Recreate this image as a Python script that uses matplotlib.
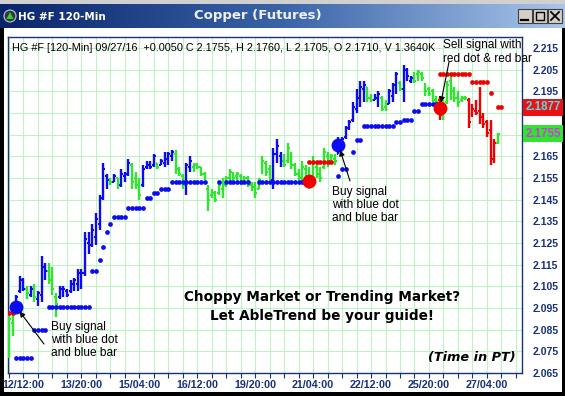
import numpy as np
import matplotlib
matplotlib.use('Agg')
import matplotlib.pyplot as plt
import matplotlib.patches as mpatches
import matplotlib.transforms as mtransforms
from matplotlib.colors import LinearSegmentedColormap

# ---- data: HG #F copper futures, 120-min bars (bar 0 = first bar on the left) ----
bar_color = list("ggbbbgbgbb" "bgggbbbbbb" "bbbbbbbbgb" "gbbbgggbbb" "bgbbbbgggb"
                 "bggggggggg" "gggggggggg" "gggbbbgggg" "gggggggggg" "gbbbbbbbbg"
                 "gbbggbbbgb" "bbgggggggr" "gggggggrrr" "rrrrrg")
high = [2.092, 2.093, 2.101, 2.110, 2.109, 2.105, 2.105, 2.106, 2.103, 2.119,
        2.116, 2.116, 2.114, 2.102, 2.105, 2.105, 2.104, 2.108, 2.109, 2.113,
        2.113, 2.130, 2.130, 2.134, 2.139, 2.147, 2.162, 2.157, 2.155, 2.157,
        2.155, 2.159, 2.158, 2.164, 2.162, 2.158, 2.155, 2.161, 2.163, 2.163,
        2.166, 2.162, 2.164, 2.167, 2.167, 2.168, 2.168, 2.160, 2.157, 2.162,
        2.165, 2.162, 2.162, 2.160, 2.158, 2.152, 2.150, 2.149, 2.153, 2.155,
        2.156, 2.159, 2.158, 2.158, 2.157, 2.156, 2.156, 2.153, 2.153, 2.155,
        2.165, 2.163, 2.161, 2.169, 2.173, 2.167, 2.166, 2.171, 2.167, 2.162,
        2.159, 2.163, 2.161, 2.160, 2.165, 2.163, 2.160, 2.169, 2.167, 2.166,
        2.166, 2.174, 2.174, 2.179, 2.182, 2.190, 2.196, 2.200, 2.200, 2.197,
        2.194, 2.194, 2.195, 2.193, 2.191, 2.196, 2.199, 2.204, 2.200, 2.207,
        2.206, 2.202, 2.204, 2.205, 2.204, 2.199, 2.197, 2.196, 2.193, 2.193,
        2.191, 2.200, 2.203, 2.197, 2.195, 2.193, 2.193, 2.192, 2.189, 2.191,
        2.197, 2.185, 2.182, 2.182, 2.173, 2.176]
low = [2.072, 2.082, 2.093, 2.102, 2.103, 2.099, 2.100, 2.098, 2.096, 2.098,
       2.108, 2.106, 2.101, 2.091, 2.099, 2.100, 2.100, 2.102, 2.103, 2.103,
       2.104, 2.110, 2.120, 2.123, 2.124, 2.131, 2.145, 2.150, 2.152, 2.153,
       2.150, 2.151, 2.153, 2.156, 2.150, 2.150, 2.145, 2.151, 2.159, 2.159,
       2.160, 2.159, 2.161, 2.160, 2.161, 2.163, 2.157, 2.156, 2.150, 2.147,
       2.158, 2.158, 2.159, 2.156, 2.154, 2.140, 2.146, 2.144, 2.147, 2.146,
       2.151, 2.153, 2.154, 2.154, 2.152, 2.153, 2.151, 2.149, 2.146, 2.150,
       2.157, 2.156, 2.154, 2.150, 2.162, 2.160, 2.160, 2.162, 2.159, 2.156,
       2.154, 2.153, 2.152, 2.150, 2.154, 2.155, 2.153, 2.159, 2.160, 2.162,
       2.161, 2.166, 2.170, 2.173, 2.177, 2.181, 2.185, 2.188, 2.190, 2.190,
       2.190, 2.191, 2.188, 2.186, 2.186, 2.189, 2.190, 2.194, 2.195, 2.190,
       2.200, 2.199, 2.199, 2.200, 2.200, 2.193, 2.193, 2.190, 2.189, 2.182,
       2.182, 2.189, 2.191, 2.190, 2.188, 2.190, 2.191, 2.178, 2.183, 2.184,
       2.180, 2.178, 2.174, 2.161, 2.162, 2.1705]
opn = [2.075, 2.088, 2.094, 2.103, 2.107, 2.104, 2.101, 2.104, 2.099, 2.101,
       2.114, 2.112, 2.110, 2.100, 2.100, 2.102, 2.103, 2.103, 2.106, 2.106,
       2.110, 2.111, 2.125, 2.124, 2.128, 2.134, 2.146, 2.156, 2.154, 2.153,
       2.155, 2.152, 2.156, 2.157, 2.161, 2.155, 2.153, 2.152, 2.160, 2.161,
       2.161, 2.162, 2.161, 2.162, 2.164, 2.165, 2.166, 2.159, 2.156, 2.150,
       2.160, 2.160, 2.161, 2.160, 2.157, 2.150, 2.147, 2.147, 2.148, 2.150,
       2.152, 2.155, 2.157, 2.156, 2.156, 2.154, 2.155, 2.152, 2.151, 2.150,
       2.158, 2.162, 2.159, 2.154, 2.166, 2.165, 2.163, 2.163, 2.166, 2.161,
       2.157, 2.155, 2.159, 2.155, 2.155, 2.160, 2.158, 2.160, 2.165, 2.163,
       2.164, 2.166, 2.171, 2.174, 2.178, 2.182, 2.187, 2.192, 2.196, 2.197,
       2.192, 2.191, 2.192, 2.192, 2.188, 2.189, 2.193, 2.197, 2.199, 2.196,
       2.205, 2.200, 2.202, 2.203, 2.203, 2.198, 2.196, 2.195, 2.191, 2.191,
       2.185, 2.190, 2.200, 2.195, 2.192, 2.191, 2.192, 2.191, 2.184, 2.186,
       2.186, 2.183, 2.181, 2.177, 2.164, 2.171]
close = [2.090, 2.092, 2.100, 2.108, 2.104, 2.102, 2.104, 2.100, 2.102, 2.115,
         2.112, 2.108, 2.104, 2.097, 2.104, 2.104, 2.101, 2.107, 2.108, 2.111,
         2.111, 2.127, 2.122, 2.131, 2.136, 2.145, 2.159, 2.154, 2.153, 2.156,
         2.151, 2.157, 2.157, 2.162, 2.153, 2.152, 2.147, 2.159, 2.162, 2.160,
         2.165, 2.160, 2.163, 2.165, 2.166, 2.167, 2.159, 2.157, 2.152, 2.161,
         2.163, 2.161, 2.160, 2.157, 2.155, 2.145, 2.148, 2.145, 2.152, 2.154,
         2.155, 2.158, 2.155, 2.157, 2.153, 2.155, 2.152, 2.150, 2.148, 2.154,
         2.163, 2.158, 2.156, 2.166, 2.170, 2.162, 2.161, 2.169, 2.161, 2.157,
         2.155, 2.160, 2.154, 2.152, 2.162, 2.157, 2.155, 2.167, 2.162, 2.165,
         2.163, 2.172, 2.173, 2.178, 2.181, 2.188, 2.194, 2.197, 2.198, 2.192,
         2.191, 2.193, 2.194, 2.187, 2.187, 2.195, 2.198, 2.203, 2.196, 2.205,
         2.202, 2.201, 2.200, 2.204, 2.201, 2.195, 2.194, 2.191, 2.190, 2.184,
         2.189, 2.198, 2.194, 2.192, 2.190, 2.192, 2.192, 2.181, 2.187, 2.185,
         2.182, 2.180, 2.176, 2.164, 2.171, 2.1755]

# trailing stop dots: (first bar, last bar, level)
blue_stops = [(2, 6, 2.072), (7, 10, 2.085), (11, 22, 2.0955), (23, 24, 2.112),
              (25, 25, 2.117), (26, 26, 2.123), (27, 27, 2.130), (28, 28, 2.134),
              (29, 32, 2.137), (33, 37, 2.141), (38, 39, 2.146), (40, 41, 2.148),
              (42, 44, 2.150), (45, 54, 2.153), (58, 58, 2.153), (60, 66, 2.153),
              (69, 82, 2.153), (91, 91, 2.156), (92, 93, 2.159), (95, 95, 2.167),
              (96, 97, 2.1725), (98, 106, 2.179), (107, 108, 2.181), (109, 111, 2.182),
              (112, 113, 2.186), (114, 118, 2.189)]
red_stops = [(0, 1, 2.0925), (83, 89, 2.1624), (119, 127, 2.203), (128, 132, 2.1994),
             (133, 133, 2.1943), (135, 136, 2.1877)]

# buy / sell signals
signal_bar = [2, 83, 91, 119]
signal_price = [2.0955, 2.1535, 2.1703, 2.1873]
signal_kind = ['b', 'r', 'b', 'r']

x_label_bar = [4, 20, 36, 52, 68, 84, 100, 116, 132]
x_labels = ['12/12:00', '13/20:00', '15/04:00', '16/12:00', '19/20:00',
            '21/04:00', '22/12:00', '25/20:00', '27/04:00']
price_ticks = [2.065, 2.075, 2.085, 2.095, 2.105, 2.115, 2.125, 2.135,
               2.145, 2.155, 2.165, 2.175, 2.185, 2.195, 2.205, 2.215]
last_stop = 2.1877
last_close = 2.1755

header = ("HG #F [120-Min] 09/27/16  +0.0050 C 2.1755, H 2.1760, L 2.1705, "
          "O 2.1710, V 1.3640K")

colors = {'b': '#0c0cf0', 'g': '#2ee62e', 'r': '#f00000'}
navy = '#17317a'

W, H = 565, 396
fig = plt.figure(figsize=(W / 100, H / 100), dpi=100)
fig.patch.set_facecolor('white')

# ---- window chrome (pixel coords) ----
bg = fig.add_axes([0, 0, 1, 1], zorder=0)
grad = np.linspace(0, 1, 256).reshape(1, -1)
cm = LinearSegmentedColormap.from_list('tb', ['#0a246a', '#3a64a8', '#a9c6ea'])
bg.imshow(grad, extent=[0, W, 28, 4], aspect='auto', cmap=cm, interpolation='bilinear')
bg.add_patch(mpatches.Rectangle((0, 0), W, 4, fc='#d0d0d0', ec='none'))
bg.add_patch(mpatches.Rectangle((0, 28), 4, H - 28, fc='black', ec='none'))
bg.add_patch(mpatches.Rectangle((561.5, 28), 3.5, H - 28, fc='black', ec='none'))
bg.add_patch(mpatches.Rectangle((0, 392), W, 4, fc='black', ec='none'))
bg.set_xlim(0, W)
bg.set_ylim(H, 0)
bg.axis('off')

# title bar contents
bg.add_patch(mpatches.Circle((10, 16), 6, fc='#303840', ec='#c0c8d0', lw=0.8))
bg.add_patch(mpatches.Polygon([[6.5, 19], [13.5, 19], [10, 12]], fc='#30d030', ec='none'))
bg.text(18, 16.5, 'HG #F 120-Min', color='white', fontsize=7.5, fontweight='bold',
        family='DejaVu Sans', va='center', ha='left')
bg.text(258, 16, 'Copper (Futures)', color='#eef0f6', fontsize=9.5, fontweight='bold',
        family='DejaVu Sans', va='center', ha='center')
for bx in [518, 533, 548]:
    bg.add_patch(mpatches.Rectangle((bx, 9), 14, 14, fc='#d4d0c8', ec='#404040', lw=0.8))
bg.plot([521, 528], [20, 20], color='black', lw=1.6)
bg.add_patch(mpatches.Rectangle((536, 12), 8, 8, fc='none', ec='black', lw=1.0))
bg.plot([551, 559], [12, 20], color='black', lw=1.3)
bg.plot([551, 559], [20, 12], color='black', lw=1.3)

# ---- main chart ----
ax = fig.add_axes([8 / W, 1 - 373 / H, (522 - 8) / W, (373 - 37) / H], zorder=2)
ax.set_facecolor('white')

xs = np.arange(len(high))
for key in ['g', 'b', 'r']:
    sel = np.array([c == key for c in bar_color])
    xi = xs[sel]
    ax.vlines(xi, np.array(low)[sel], np.array(high)[sel], color=colors[key], lw=1.7, zorder=3)
    ax.hlines(np.array(opn)[sel], xi - 0.5, xi, color=colors[key], lw=1.5, zorder=3)
    ax.hlines(np.array(close)[sel], xi, xi + 0.5, color=colors[key], lw=1.5, zorder=3)

for a, b, lvl in blue_stops:
    idx = np.arange(a, b + 1)
    ax.plot(idx, np.full(len(idx), lvl), 'o', ms=3.4, mew=0, color=colors['b'], zorder=4)
for a, b, lvl in red_stops:
    idx = np.arange(a, b + 1)
    ax.plot(idx, np.full(len(idx), lvl), 'o', ms=3.4, mew=0, color=colors['r'], zorder=4)

for sb, sp, sk in zip(signal_bar, signal_price, signal_kind):
    ax.plot(sb, sp, 'o', ms=10, mew=0, color=colors[sk], zorder=5)

ax.set_xlim(-0.28, 141.7)
ax.set_ylim(2.065, 2.2201)
ax.set_xticks(np.arange(0, 142, 4))
ax.set_xticklabels([x_labels[x_label_bar.index(t)] if t in x_label_bar else ''
                    for t in range(0, 142, 4)])
ax.set_yticks(price_ticks)
# the two labels under the last-stop / last-close boxes are hidden by them
ax.set_yticklabels(['' if p in (2.185, 2.175) else '%.3f' % p for p in price_ticks])
ax.yaxis.tick_right()
ax.grid(True, color='#bff3c6', lw=0.8, zorder=0)
ax.set_axisbelow(True)
ax.tick_params(axis='y', length=0, pad=8, labelsize=7.5, labelcolor=navy)
ax.tick_params(axis='x', length=3.5, width=0.8, color=navy, pad=1.5, labelsize=7.7,
               labelcolor=navy)
for lbl in ax.get_xticklabels() + ax.get_yticklabels():
    lbl.set_fontweight('bold')
    lbl.set_family('Liberation Sans')
for sp in ax.spines.values():
    sp.set_color(navy)
    sp.set_linewidth(1.0)

# last stop / last close boxes on the price scale
blend = mtransforms.blended_transform_factory(ax.transAxes, ax.transData)
ax.text(1.0065, last_stop, '%.4f' % last_stop, transform=blend, ha='left', va='center',
        fontsize=8.3, fontweight='bold', family='Liberation Sans', color='#50dce6',
        bbox=dict(boxstyle='square,pad=0.22', fc='#ee1111', ec='none'), zorder=6)
ax.text(1.0065, last_close, '%.4f' % last_close, transform=blend, ha='left', va='center',
        fontsize=8.3, fontweight='bold', family='Liberation Sans', color='#d838e0',
        bbox=dict(boxstyle='square,pad=0.22', fc='#2ee62e', ec='none'), zorder=6)

# ---- text overlay (pixel coords) ----
ov = fig.add_axes([0, 0, 1, 1], zorder=3)
ov.set_xlim(0, W)
ov.set_ylim(H, 0)
ov.axis('off')
ov.patch.set_alpha(0)

ov.text(12, 48, header, fontsize=7.85, family='Liberation Sans', va='center', ha='left')
ov.text(443, 52, 'Sell signal with\nred dot & red bar', fontsize=8.6,
        family='Liberation Sans', va='center', ha='left', linespacing=1.15)
ov.text(332, 205, 'Buy signal\nwith blue dot\nand blue bar', fontsize=8.6,
        family='Liberation Sans', va='center', ha='left', linespacing=1.15)
ov.text(51, 340, 'Buy signal\nwith blue dot\nand blue bar', fontsize=8.6,
        family='Liberation Sans', va='center', ha='left', linespacing=1.15)
ov.text(322, 297, 'Choppy Market or Trending Market?', fontsize=9.8, fontweight='bold',
        family='DejaVu Sans', va='center', ha='center')
ov.text(322, 316, 'Let AbleTrend be your guide!', fontsize=9.8, fontweight='bold',
        family='DejaVu Sans', va='center', ha='center')
ov.text(516, 358, '(Time in PT)', fontsize=9.3, fontweight='bold', style='italic',
        family='DejaVu Sans', va='center', ha='right')

arrow = dict(arrowstyle='-|>', color='black', lw=0.8, mutation_scale=8, shrinkA=0, shrinkB=4)
for (tx, ty), k in zip([(44, 344), (350, 181), (449, 62)], [0, 2, 3]):
    ov.annotate('', xy=(signal_bar[k], signal_price[k]), xycoords=ax.transData,
                xytext=(tx, ty), textcoords='data', arrowprops=arrow)

fig.savefig('out.png', dpi=100)
